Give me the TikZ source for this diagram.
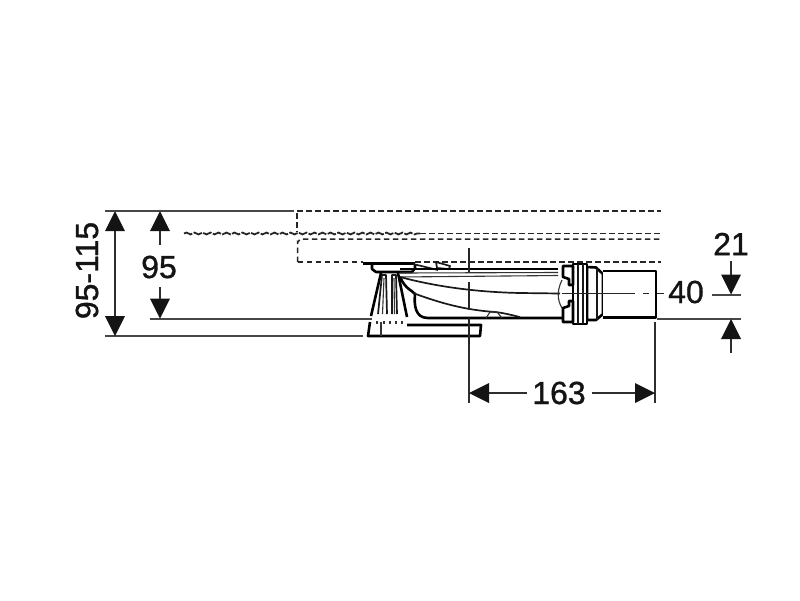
\documentclass[tikz,border=0pt]{standalone}
\usepackage{fontspec}
\setmainfont{Liberation Sans}
\newfontfamily\dimfont[FakeBold=1]{Liberation Sans}
\usetikzlibrary{decorations.pathmorphing}
\tikzset{
 dimline/.style={line width=1.7pt,draw=black!82},
 extline/.style={line width=2pt,draw=black!72},
 arrowhead/.style={fill=black!92,draw=none},
 hidden/.style={line width=1.5pt,draw=black!85,dash pattern=on 5.5pt off 3.5pt},
 wavy/.style={line width=1.8pt,draw=black!85,dash pattern=on 9pt off 1.5pt,decorate,decoration={snake,amplitude=.9pt,segment length=8pt,post length=0pt}},
 axisline/.style={line width=1.5pt,draw=black!85},
 partthick/.style={line width=2.6pt,draw=black,line join=round},
 partmid/.style={line width=1.7pt,draw=black!90,line join=round},
 partthin/.style={line width=1.1pt,draw=black!80,line join=round},
 dimtext/.style={font=\dimfont\fontsize{32}{32}\selectfont,text=black!92,inner sep=0pt},
}
\newcommand{\arrup}[2]{\fill[arrowhead] (#1,#2) -- (#1-10,#2+20) -- (#1+10,#2+20) -- cycle;}
\newcommand{\arrdn}[2]{\fill[arrowhead] (#1,#2) -- (#1-10,#2-20) -- (#1+10,#2-20) -- cycle;}
\newcommand{\arrlf}[2]{\fill[arrowhead] (#1,#2) -- (#1+20,#2-10) -- (#1+20,#2+10) -- cycle;}
\newcommand{\arrrt}[2]{\fill[arrowhead] (#1,#2) -- (#1-20,#2-10) -- (#1-20,#2+10) -- cycle;}
\begin{document}
\begin{tikzpicture}[x=1pt,y=-1pt]
\useasboundingbox (0,0) rectangle (800,600);
\fill[white] (0,0) rectangle (800,600);
% extension lines
\draw[extline] (105,211) -- (294,211);
\draw[extline] (150,318.5) -- (372,318.5);
\draw[extline] (105,336) -- (363,336);
\draw[extline] (657,318.5) -- (741,318.5);
\draw[extline] (712,294.5) -- (741,294.5);
\draw[dimline] (469,345) -- (469,403);
\draw[dimline] (655,322) -- (655,403);
% dimension 95-115
\draw[dimline] (115,215) -- (115,332);
\arrup{115}{211}\arrdn{115}{336}
\node[dimtext,rotate=90] (dimA) at (87,270.5) {95-115};
% dimension 95
\draw[dimline] (160,225) -- (160,245);
\draw[dimline] (160,287) -- (160,305);
\arrup{160}{211}\arrdn{160}{318.5}
\node[dimtext] (dimB) at (159,267) {95};
% dimension 21
\draw[dimline] (731,261) -- (731,280);
\draw[dimline] (731,333) -- (731,353);
\arrdn{731}{294.5}\arrup{731}{319}
\node[dimtext] (dimC) at (731,244) {21};
\node[dimtext] (dimD) at (686,292) {40};
% dimension 163
\draw[dimline] (480,393) -- (527,393);
\draw[dimline] (592,393) -- (645,393);
\arrlf{469}{393}\arrrt{655}{393}
\node[dimtext] (dimE) at (559,393) {163};
% hidden outlines
\draw[hidden] (297,211) -- (661,211);
\draw[hidden] (297,213) -- (297,232);
\draw[wavy] (184,233.5) -- (420,233.5);
\draw[hidden] (420,233.5) -- (661,233.5);
\draw[hidden] (297.5,262) -- (297.5,242) to[out=-90,in=180] (301,239) -- (661,239);
\draw[hidden] (297.5,262) -- (363,262);
\draw[hidden] (415,262) -- (661,262);
% foot base
\draw[partthick] (370,322) -- (368,336) -- (480,336) -- (481,325) -- (407,325);
\draw[partthin] (381,322) -- (381,336);
\foreach \x in {377,384,390,396,402}{\draw[partthin] (\x,321) -- (\x,324);}
% foot column
\draw[partthick] (381,273) -- (371,316);
\draw[partthick] (398,273) -- (407,317);
\draw[partmid] (378,314) -- (382,275) -- (386,275) -- (387,314);
\draw[partmid] (392,314) -- (392,275) -- (396,275) -- (397,314);
\draw[partthin] (382.5,314) -- (384,278);
\draw[partthin] (394.5,314) -- (394,278);
% flange
\draw[partthick] (363,263.5) -- (415,263.5);
\draw[partthick] (372,264) -- (372,269) -- (376,272) -- (412,272) -- (415,268) -- (415,264);
\draw[partmid] (413,264) -- (438,270);
\draw[partmid] (436,262) -- (450,266) -- (449,269) -- (437,268) -- cycle;
% bowl
\draw[partthick,line width=2.2pt] (400,269) -- (558,269);
\draw[partthin] (400,273) -- (558,272.5);
\draw[partthin] (400,277) -- (558,275.5);
\draw[partthick] (400,277) .. controls (406,290) and (412,290) .. (415,294) .. controls (414,305) and (415,318) .. (428,318) -- (562,318);
\draw[partmid] (400,277) .. controls (430,285) and (470,292) .. (520,293) -- (560,293.5);
\draw[partmid] (413,293) .. controls (440,303) and (465,310) .. (495,312) .. controls (505,313) and (515,316) .. (520,317);
\draw[partthin] (486,318) -- (490,312) -- (497,312) -- (502,318);
% body curve near coupling
\draw[partthin] (562,280) .. controls (557,290) and (557,300) .. (562,308);
% collar
\draw[partthick,fill=white] (587,267) -- (596,267.5) -- (603,274) -- (603,314) -- (596,320) -- (587,320) -- cycle;
\draw[partthick,fill=white] (573,264) -- (587,264) -- (587,324) -- (573,324) -- cycle;
\draw[partthick,fill=white] (573,266) -- (563,266) -- (563,277) -- (569,279) -- (569,285) -- (573,285) -- cycle;
\draw[partthick,fill=white] (573,322) -- (563,322) -- (563,308) -- (569,306) -- (569,301) -- (573,301) -- cycle;
\draw[partmid] (578,264) -- (578,324);
\draw[partmid] (583,264) -- (583,324);
\draw[partmid] (597,268) -- (597,320);
% pipe
\draw[partthick,fill=white] (603,271) -- (656,271) -- (656,317.5) -- (603,317.5);
% centre lines
\draw[axisline] (469,248) -- (469,272);
\draw[axisline] (469,282) -- (469,310);
\draw[axisline] (469,318) -- (469,345);
\draw[axisline] (562,293.5) -- (635,293.5);
\draw[axisline] (643,293.5) -- (649,293.5);
\draw[axisline] (657,293.5) -- (664,293.5);
\end{tikzpicture}
\end{document}
